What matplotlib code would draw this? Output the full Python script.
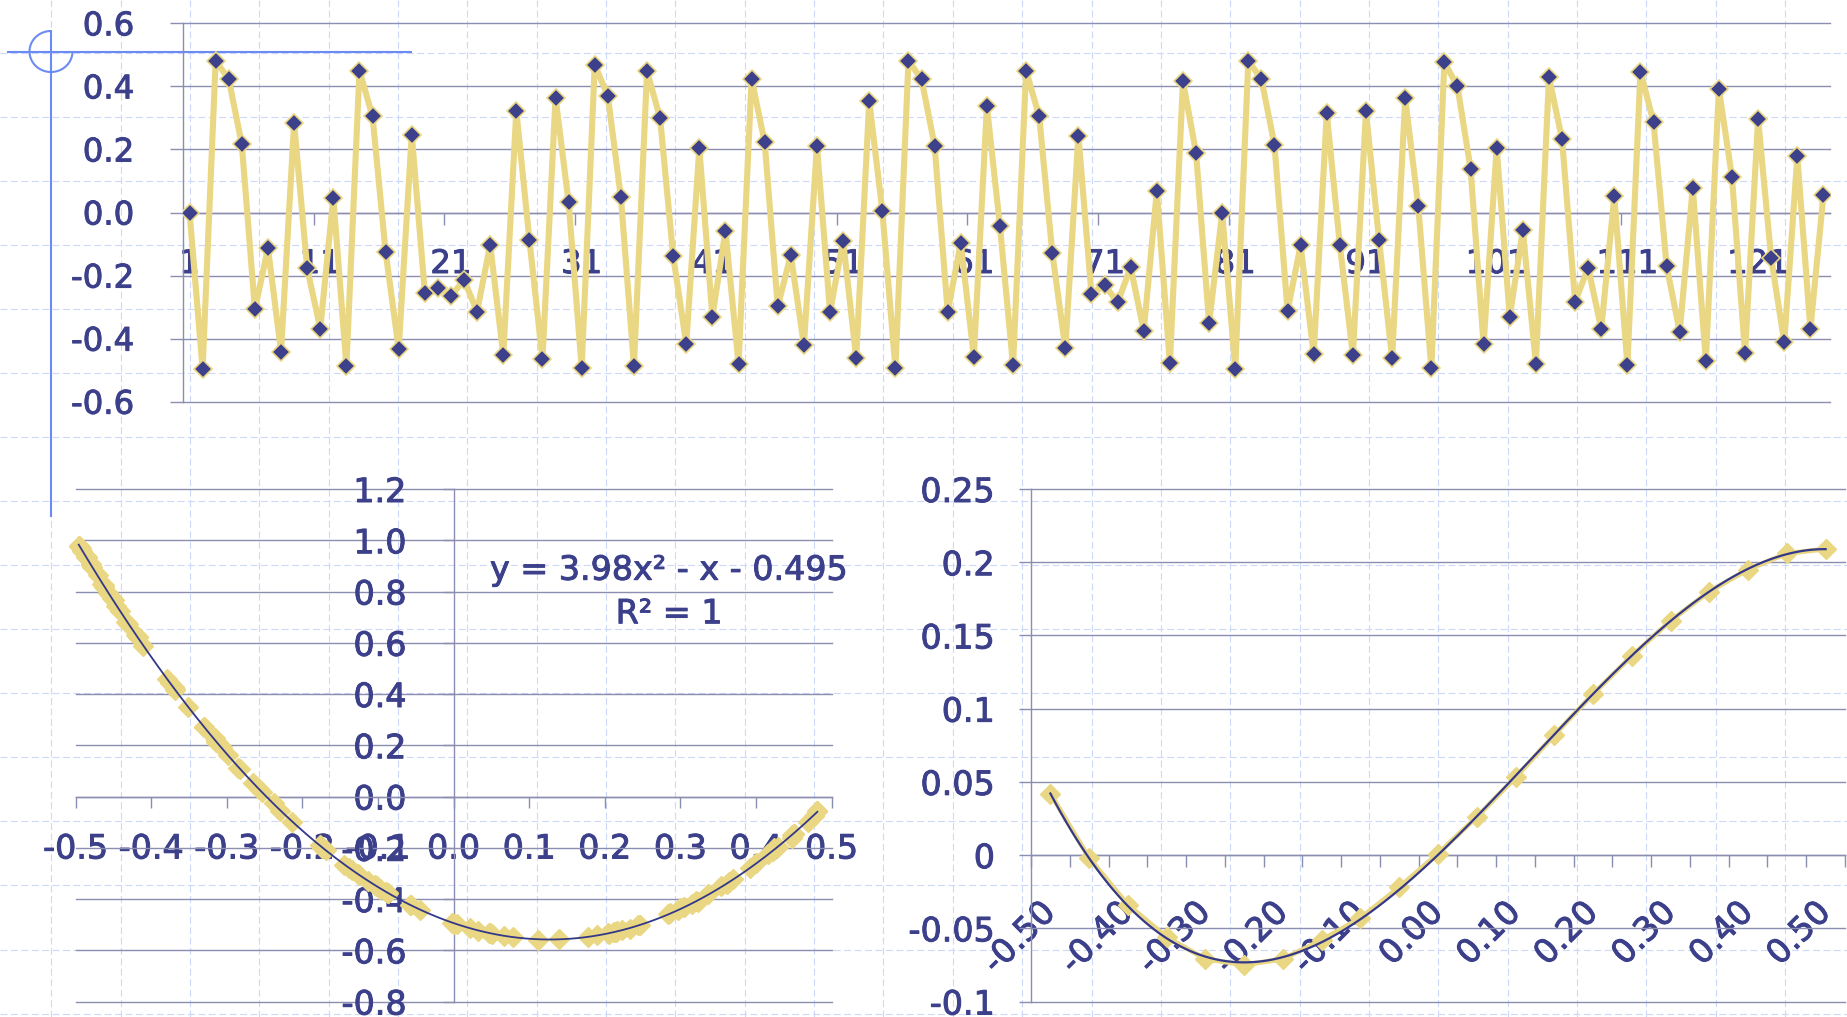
import numpy as np
import matplotlib
matplotlib.use("Agg")
import matplotlib.pyplot as plt
from matplotlib.patches import Arc
import matplotlib.patheffects as pe

plt.rcParams['font.family'] = ['DejaVu Sans']
plt.rcParams['lines.scale_dashes'] = False

# ---------------- data ----------------
series = [0.000, -0.496, 0.481, 0.423, 0.216, -0.307, -0.113, -0.441, 0.283, -0.177,
          -0.368, 0.047, -0.487, 0.450, 0.305, -0.125, -0.433, 0.247, -0.254, -0.238,
          -0.265, -0.214, -0.314, -0.102, -0.452, 0.323, -0.087, -0.465, 0.364, 0.032,
          -0.492, 0.468, 0.370, 0.048, -0.486, 0.448, 0.299, -0.138, -0.417, 0.204,
          -0.330, -0.058, -0.480, 0.424, 0.222, -0.298, -0.135, -0.420, 0.212, -0.316,
          -0.089, -0.462, 0.354, 0.005, -0.494, 0.481, 0.423, 0.212, -0.315, -0.097,
          -0.457, 0.337, -0.044, -0.485, 0.450, 0.305, -0.127, -0.431, 0.244, -0.258,
          -0.230, -0.285, -0.174, -0.375, 0.067, -0.478, 0.416, 0.190, -0.351, -0.002,
          -0.495, 0.481, 0.423, 0.215, -0.312, -0.104, -0.450, 0.315, -0.103, -0.452,
          0.321, -0.087, -0.463, 0.362, 0.021, -0.493, 0.476, 0.400, 0.139, -0.418,
          0.205, -0.330, -0.057, -0.480, 0.429, 0.233, -0.283, -0.175, -0.369, 0.051,
          -0.485, 0.447, 0.286, -0.169, -0.379, 0.079, -0.471, 0.392, 0.112, -0.447,
          0.297, -0.145, -0.411, 0.178, -0.370, 0.056]
top_xtick_cats = [1, 11, 21, 31, 41, 51, 61, 71, 81, 91, 101, 111, 121]
top_xtick_labels = ["1", "11", "21", "31", "41", "51", "61", "71", "81", "91", "101", "111", "121"]
top_yticks = [-0.6, -0.4, -0.2, 0.0, 0.2, 0.4, 0.6]
top_ylabels = ["-0.6", "-0.4", "-0.2", "0.0", "0.2", "0.4", "0.6"]

scatter_x = [0.000, -0.496, 0.481, 0.423, 0.216, -0.307, -0.113, -0.441, 0.283, -0.177,
             -0.368, 0.047, -0.487, 0.450, 0.305, -0.125, -0.433, 0.247, -0.254, -0.238,
             -0.265, -0.214, -0.314, -0.102, -0.452, 0.323, -0.087, -0.465, 0.364, 0.032,
             -0.492, 0.468, 0.370, 0.048, -0.486, 0.448, 0.299, -0.138, -0.417, 0.204,
             -0.330, -0.058, -0.480, 0.424, 0.222, -0.298, -0.135, -0.420, 0.212, -0.316,
             -0.089, -0.462, 0.354, 0.005, -0.494, 0.481, 0.423, 0.212, -0.315, -0.097,
             -0.457, 0.337, -0.044, -0.485, 0.450, 0.305, -0.127, -0.431, 0.244, -0.258,
             -0.230, -0.285, -0.174, -0.375, 0.067, -0.478, 0.416, 0.190, -0.351, -0.002,
             -0.495, 0.481, 0.423, 0.215, -0.312, -0.104, -0.450, 0.315, -0.103, -0.452,
             0.321, -0.087, -0.463, 0.362, 0.021, -0.493, 0.476, 0.400, 0.139, -0.418,
             0.205, -0.330, -0.057, -0.480, 0.429, 0.233, -0.283, -0.175, -0.369, 0.051,
             -0.485, 0.447, 0.286, -0.169, -0.379, 0.079, -0.471, 0.392, 0.112, -0.447,
             0.297, -0.145, -0.411, 0.178, -0.370]
scatter_y = [-0.496, 0.977, -0.058, -0.207, -0.523, 0.194, -0.328, 0.724, -0.460, -0.191,
             0.415, -0.534, 0.937, -0.145, -0.430, -0.308, 0.680, -0.501, 0.016, -0.027,
             0.051, -0.100, 0.212, -0.350, 0.775, -0.410, -0.378, 0.829, -0.332, -0.524,
             0.960, -0.098, -0.322, -0.534, 0.934, -0.149, -0.437, -0.279, 0.621, -0.534,
             0.272, -0.422, 0.904, -0.202, -0.520, 0.163, -0.285, 0.632, -0.528, 0.227,
             -0.373, 0.816, -0.349, -0.499, 0.975, -0.058, -0.211, -0.527, 0.218, -0.360,
             0.794, -0.381, -0.441, 0.935, -0.145, -0.432, -0.304, 0.675, -0.502, 0.028,
             -0.055, 0.111, -0.201, 0.442, -0.545, 0.894, -0.226, -0.541, 0.349, -0.493,
             0.976, -0.058, -0.208, -0.527, 0.208, -0.346, 0.765, -0.418, -0.349, 0.773,
             -0.408, -0.376, 0.825, -0.341, -0.514, 0.969, -0.076, -0.261, -0.557, 0.623,
             -0.535, 0.273, -0.423, 0.909, -0.196, -0.516, 0.108, -0.194, 0.420, -0.536,
             0.932, -0.161, -0.455, -0.210, 0.458, -0.550, 0.863, -0.280, -0.559, 0.744,
             -0.442, -0.266, 0.589, -0.548, 0.426]
bl_xticks = [-0.5, -0.4, -0.3, -0.2, -0.1, 0.0, 0.1, 0.2, 0.3, 0.4, 0.5]
bl_xlabels = ["-0.5", "-0.4", "-0.3", "-0.2", "-0.1", "0.0", "0.1", "0.2", "0.3", "0.4", "0.5"]
bl_yticks = [-0.8, -0.6, -0.4, -0.2, 0.0, 0.2, 0.4, 0.6, 0.8, 1.0, 1.2]
bl_ylabels = ["-0.8", "-0.6", "-0.4", "-0.2", "0.0", "0.2", "0.4", "0.6", "0.8", "1.0", "1.2"]
equation_text = "y = 3.98x² - x - 0.495"
r2_text = "R² = 1"

br_categories = ["-0.50", "-0.45", "-0.40", "-0.35", "-0.30", "-0.25", "-0.20", "-0.15",
                 "-0.10", "-0.05", "0.00", "0.05", "0.10", "0.15", "0.20", "0.25",
                 "0.30", "0.35", "0.40", "0.45", "0.50"]
br_values = [0.042, -0.002, -0.034, -0.056, -0.071, -0.075, -0.071, -0.058, -0.043, -0.022,
             0.001, 0.026, 0.053, 0.082, 0.110, 0.136, 0.160, 0.180, 0.195, 0.206, 0.209]
br_yticks = [-0.1, -0.05, 0.0, 0.05, 0.1, 0.15, 0.2, 0.25]
br_ylabels = ["-0.1", "-0.05", "0", "0.05", "0.1", "0.15", "0.2", "0.25"]

# ---------------- style ----------------
TEXT = '#3C408A'
NAVY = '#3D408A'
TREND = '#333889'
GRID = '#8B8EB1'
YELLOW = '#EAD783'
BGDASH = '#CCD9F8'
DECO = '#6B8BF2'
BOLDEN = [pe.withStroke(linewidth=0.7, foreground=TEXT)]

W, H, DPI = 1847, 1017, 100
fig = plt.figure(figsize=(W / DPI, H / DPI), dpi=DPI)
fig.patch.set_facecolor('white')


def px_rect(left, top, right, bottom):
    return [left / W, 1 - bottom / H, (right - left) / W, (bottom - top) / H]


def pt(px):
    return px * 72.0 / DPI


def finish_axis(ax):
    for gl in ax.yaxis.get_gridlines():
        gl.set_clip_on(False)
    for lab in ax.get_xticklabels() + ax.get_yticklabels():
        lab.set_path_effects(BOLDEN)


# ---------------- background (graph paper + crosshair) ----------------
bg = fig.add_axes([0, 0, 1, 1])
bg.set_xlim(0, W)
bg.set_ylim(H, 0)
bg.axis('off')
bg.set_zorder(0)
for k in range(27):
    bg.axvline(51.3 + 69.35 * k, color=BGDASH, lw=0.8, ls=(0, (5, 2.5)))
for k in range(16):
    bg.axhline(52.7 + 64.06 * k, color=BGDASH, lw=0.8, ls=(0, (5, 2.5)))
bg.plot([7, 412], [51.5, 51.5], color=DECO, lw=1.5, solid_capstyle='butt')
bg.plot([51, 51], [30, 517], color=DECO, lw=1.5, solid_capstyle='butt')
bg.add_patch(Arc((51, 51.5), 43, 41, theta1=0, theta2=270, color=DECO, lw=1.5))

# ---------------- top chart ----------------
ax1 = fig.add_axes(px_rect(183, 23.3, 1830, 401.7))
ax1.set_facecolor('none')
ax1.set_zorder(1)
idx = np.arange(1, len(series) + 1)
ax1.plot(idx, series, color=YELLOW, lw=4.4, solid_joinstyle='round',
         marker='D', ms=9.2, mfc=NAVY, mec=YELLOW, mew=1.2, zorder=3)
ax1.set_xlim(0.5, len(series) + 0.5)
ax1.set_ylim(-0.6, 0.6)
for s in ('top', 'right'):
    ax1.spines[s].set_visible(False)
ax1.spines['bottom'].set_position(('data', 0))
for s in ('bottom', 'left'):
    ax1.spines[s].set_color(GRID)
    ax1.spines[s].set_linewidth(1.0)
ax1.set_yticks(top_yticks)
ax1.set_yticklabels(top_ylabels)
ax1.set_xticks(top_xtick_cats)
ax1.set_xticklabels(top_xtick_labels)
ax1.set_xticks(np.arange(10.5, len(series), 10), minor=True)
ax1.grid(axis='y', color=GRID, lw=1.0)
ax1.tick_params(axis='y', direction='out', length=pt(13), width=1.0, color=GRID,
                pad=pt(35.6), labelsize=23.3, labelcolor=TEXT)
ax1.tick_params(axis='x', which='major', length=0, pad=pt(36.5), labelsize=23.3, labelcolor=TEXT)
ax1.tick_params(axis='x', which='minor', direction='out', length=pt(12), width=1.0, color=GRID)
finish_axis(ax1)

# ---------------- bottom-left chart ----------------
ax2 = fig.add_axes(px_rect(75.7, 489, 831.7, 1001.5))
ax2.set_facecolor('none')
ax2.set_zorder(1)
ax2.set_xlim(-0.5, 0.5)
ax2.set_ylim(-0.8, 1.2)
for s in ('top', 'right'):
    ax2.spines[s].set_visible(False)
ax2.spines['bottom'].set_position(('data', 0))
ax2.spines['left'].set_position(('data', 0))
for s in ('bottom', 'left'):
    ax2.spines[s].set_color(GRID)
    ax2.spines[s].set_linewidth(1.0)
ax2.set_xticks(bl_xticks)
ax2.set_xticklabels(bl_xlabels)
ax2.set_yticks(bl_yticks)
ax2.set_yticklabels(bl_ylabels)
ax2.grid(axis='y', color=GRID, lw=1.0)
ax2.tick_params(axis='x', direction='out', length=pt(11), width=1.0, color=GRID,
                pad=pt(25), labelsize=24, labelcolor=TEXT)
ax2.tick_params(axis='y', direction='out', length=pt(11), width=1.0, color=GRID,
                pad=pt(36), labelsize=24, labelcolor=TEXT)
ax2.plot(scatter_x, scatter_y, ls='none', marker='D', ms=10, mfc=YELLOW, mec=YELLOW,
         mew=1.0, clip_on=False, zorder=3)
coef = np.polyfit(scatter_x, scatter_y, 2)
xs = np.linspace(min(scatter_x), max(scatter_x), 300)
ax2.plot(xs, np.polyval(coef, xs), color=TREND, lw=1.3, zorder=4, clip_on=False)
ax2.text(0.285, 0.883, equation_text, ha='center', va='center', fontsize=24, color=TEXT,
         path_effects=BOLDEN)
ax2.text(0.285, 0.713, r2_text, ha='center', va='center', fontsize=24, color=TEXT,
         path_effects=BOLDEN)
finish_axis(ax2)

# ---------------- bottom-right chart ----------------
ax3 = fig.add_axes(px_rect(1031, 489, 1845, 1001.5))
ax3.set_facecolor('none')
ax3.set_zorder(1)
pos = np.arange(len(br_values))
ax3.set_xlim(-0.5, len(br_values) - 0.5)
ax3.set_ylim(-0.1, 0.25)
for s in ('top', 'right'):
    ax3.spines[s].set_visible(False)
ax3.spines['bottom'].set_position(('data', 0))
for s in ('bottom', 'left'):
    ax3.spines[s].set_color(GRID)
    ax3.spines[s].set_linewidth(1.0)
ax3.set_yticks(br_yticks)
ax3.set_yticklabels(br_ylabels)
ax3.set_xticks(pos[::2])
ax3.set_xticklabels(br_categories[::2], rotation=45, ha='right', va='center',
                    rotation_mode='anchor')
ax3.set_xticks(np.arange(len(br_values) + 1) - 0.5, minor=True)
ax3.grid(axis='y', color=GRID, lw=1.0)
ax3.tick_params(axis='y', direction='out', length=pt(12), width=1.0, color=GRID,
                pad=pt(24), labelsize=24, labelcolor=TEXT)
ax3.tick_params(axis='x', which='major', length=0, pad=pt(52), labelsize=24, labelcolor=TEXT)
ax3.tick_params(axis='x', which='minor', direction='out', length=pt(12), width=1.0, color=GRID)
ax3.plot(pos, br_values, color=YELLOW, lw=3.5, marker='D', ms=10, mfc=YELLOW, mec=YELLOW,
         clip_on=False, zorder=3)
c3 = np.polyfit(pos, br_values, 3)
ps = np.linspace(pos[0], pos[-1], 300)
ax3.plot(ps, np.polyval(c3, ps), color=TREND, lw=1.6, zorder=4)
finish_axis(ax3)

fig.savefig('out.png', dpi=DPI, facecolor='white')
